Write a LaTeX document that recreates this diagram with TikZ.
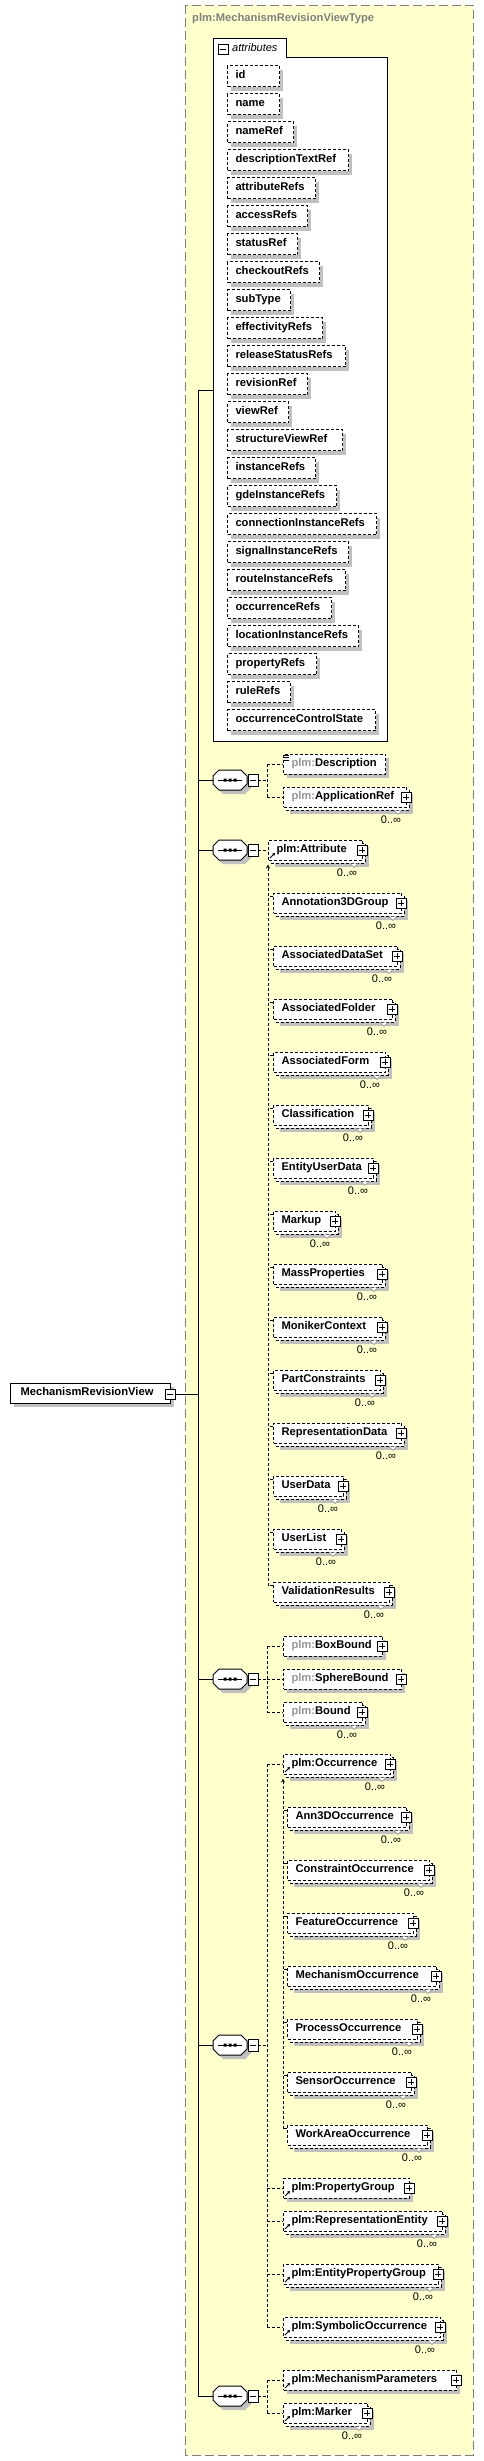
\documentclass[tikz,border=0pt]{standalone}
\usepackage{fontspec}
\setmainfont{Liberation Sans}
\usetikzlibrary{arrows.meta}
\definecolor{ybg}{RGB}{255,255,204}
\definecolor{ygray}{RGB}{128,128,128}
\definecolor{shd}{RGB}{192,192,192}
\definecolor{plmg}{RGB}{150,150,150}
\newcommand{\elfont}{\fontsize{11.2}{13}\selectfont\bfseries}
\tikzset{
  dsh/.style={dash pattern=on 3pt off 2pt, line width=1pt},
  solidln/.style={line width=1pt},
  elbox/.style={draw=black, fill=white, dash pattern=on 3pt off 2pt, line width=1pt,
    anchor=west, minimum height=20pt, inner xsep=8pt, inner ysep=0pt, align=left,
    font=\elfont, text height=8.2pt, text depth=2.4pt},
  mult/.style={font=\fontsize{11}{13}\selectfont, inner sep=0pt},
}
\newcommand{\PlusAt}[2]{%
  \draw[line width=1pt, fill=white] (#1-5,#2-5) rectangle (#1+5,#2+5);
  \draw[line width=1pt] (#1-3,#2) -- (#1+3,#2) (#1,#2-3) -- (#1,#2+3);}
\newcommand{\RefArrow}[2]{%
  \draw[line width=1pt, -{Stealth[length=3pt,width=3.5pt]}] (#1+2,#2+8) -- (#1+7,#2+3);}
\newcommand{\Single}[5]{%
  \fill[shd] (#2+4,#3-6) rectangle (#4+4,#3+14);
  \pgfmathsetmacro{\elw}{#4-#2-16}%
  \node[elbox, text width=\elw pt] (#1) at (#2,#3) {#5};}
\newcommand{\Multi}[5]{%
  \fill[shd] (#2+7,#3-3) rectangle (#4+7,#3+17);
  \draw[dsh, fill=white] (#2+3,#3-7) rectangle (#4+3,#3+13);
  \fill[white] (#4-12,#3+13.5) -- (#4-4,#3+13.5) -- (#4-8,#3+17.5) -- cycle;
  \draw[line width=0.6pt, draw=ygray] (#4-12,#3+13.5) -- (#4-8,#3+17.5) -- (#4-4,#3+13.5);
  \pgfmathsetmacro{\elw}{#4-#2-16}%
  \node[elbox, text width=\elw pt] (#1) at (#2,#3) {#5};
  \node[mult] (#1m) at (#4-15,#3+23) {0..∞};
  \PlusAt{#4}{#3}}
\newcommand{\Attr}[4]{%
  \fill[shd] (227+4,#2-10+4) rectangle (#3+4,#2+11+4);
  \pgfmathsetmacro{\elw}{#3-227-16}%
  \node[elbox, minimum height=21pt, text width=\elw pt] (#1) at (227,#2) {#4};}
\newcommand{\Octa}[2]{%
  \fill[shd] (217,#2-6) -- (223,#2-12+6) -- (245,#2-6) -- (251,#2) -- (251,#2+8) -- (245,#2+14) -- (223,#2+14) -- (217,#2+8) -- cycle;
  \draw[line width=1pt, fill=white] (213,#2-4) -- (219,#2-10) -- (241,#2-10) -- (247,#2-4) -- (247,#2+4) -- (241,#2+10) -- (219,#2+10) -- (213,#2+4) -- cycle;
  \node[inner sep=0pt, minimum width=34pt, minimum height=20pt] (#1) at (230,#2) {};
  \draw[line width=1pt] (218,#2) -- (242,#2);
  \fill (223.5,#2-1.5) rectangle (226.5,#2+1.5) (228.5,#2-1.5) rectangle (231.5,#2+1.5) (233.5,#2-1.5) rectangle (236.5,#2+1.5);
  \draw[line width=1pt, fill=white] (248,#2-6) rectangle (258,#2+6);
  \draw[line width=1pt] (250,#2) -- (256,#2);
  \coordinate (#1m) at (258,#2);}
\begin{document}
\begin{tikzpicture}[x=1pt,y=-1pt]
\useasboundingbox (0,0) rectangle (484,2461);
% type box
\draw[draw=ygray, fill=ybg, dash pattern=on 9pt off 4pt, line width=1pt] (185,5) rectangle (473,2455);
\node[anchor=west, inner sep=0pt, font=\elfont, text=ygray] (title) at (192,19) {plm:MechanismRevisionViewType};
% attributes group
\draw[line width=1pt, fill=white] (213,38) -- (286,38) -- (286,57) -- (387,57) -- (387,741) -- (213,741) -- cycle;
\draw[line width=1pt, fill=white] (218,44) rectangle (228,54);
\draw[line width=1pt] (220,49) -- (226,49);
\node[anchor=west, inner sep=0pt, font=\fontsize{11}{13}\selectfont\itshape] (attl) at (232,48) {attributes};
\coordinate (attrs) at (213,390);
\Attr{a1}{76}{279}{id}
\Attr{a2}{104}{279}{name}
\Attr{a3}{132}{293}{nameRef}
\Attr{a4}{160}{348}{descriptionTextRef}
\Attr{a5}{188}{315}{attributeRefs}
\Attr{a6}{216}{307}{accessRefs}
\Attr{a7}{244}{297}{statusRef}
\Attr{a8}{272}{319}{checkoutRefs}
\Attr{a9}{300}{290}{subType}
\Attr{a10}{328}{322}{effectivityRefs}
\Attr{a11}{356}{345}{releaseStatusRefs}
\Attr{a12}{384}{307}{revisionRef}
\Attr{a13}{412}{288}{viewRef}
\Attr{a14}{440}{342}{structureViewRef}
\Attr{a15}{468}{315}{instanceRefs}
\Attr{a16}{496}{336}{gdeInstanceRefs}
\Attr{a17}{524}{376}{connectionInstanceRefs}
\Attr{a18}{552}{348}{signalInstanceRefs}
\Attr{a19}{580}{345}{routeInstanceRefs}
\Attr{a20}{608}{331}{occurrenceRefs}
\Attr{a21}{636}{358}{locationInstanceRefs}
\Attr{a22}{664}{316}{propertyRefs}
\Attr{a23}{692}{290}{ruleRefs}
\Attr{a24}{720}{375}{occurrenceControlState}
% root element
\fill[shd] (14,1387) rectangle (174,1407);
\node[draw, fill=white, line width=1pt, anchor=west, minimum height=20pt, inner xsep=10pt, inner ysep=0pt,
  text width=140pt, align=left, font=\elfont, text height=8.2pt, text depth=2.4pt] (root) at (10,1393) {MechanismRevisionView};
\draw[line width=1pt, fill=white] (165,1389) rectangle (175,1399);
\draw[line width=1pt] (167,1394) -- (173,1394);
\coordinate (rootm) at (175,1394);
% trunk
\coordinate (trkT) at (198,390);
\coordinate (trkB) at (198,2396);
\draw[solidln] (trkT) -- (trkB);
\draw[solidln] (rootm) -- (rootm -| trkT);
\draw[solidln] (trkT) -- (attrs);
% sequences
\Octa{s1}{780}
\Octa{s2}{850}
\Octa{s3}{1679}
\Octa{s4}{2045}
\Octa{s5}{2396}
\foreach \s in {s1,s2,s3,s4,s5} { \draw[solidln] (trkT |- \s.west) -- (\s.west); }
% seq 1
\Single{desc}{283}{764}{385}{\textcolor{plmg}{plm:}Description}
\draw[line width=0.7pt] (284,755) -- (289,755) (284,757.5) -- (289,757.5) (284,760) -- (289,760);
\Multi{app}{283}{797}{406}{\textcolor{plmg}{plm:}ApplicationRef}
\coordinate (b1) at (267,780);
\draw[dsh] (s1m) -- (b1);
\draw[dsh] (b1 |- desc.west) -- (b1 |- app.west);
\draw[dsh] (b1 |- desc.west) -- (desc.west);
\draw[dsh] (b1 |- app.west) -- (app.west);
% seq 2 : Attribute substitution group
\Multi{attr}{268}{850}{362}{plm:Attribute}
\RefArrow{268}{850}
\draw[dsh] (s2m) -- (attr.west);
\Multi{g1}{273}{903}{401}{Annotation3DGroup}
\Multi{g2}{273}{956}{397}{AssociatedDataSet}
\Multi{g3}{273}{1009}{392}{AssociatedFolder}
\Multi{g4}{273}{1062}{385}{AssociatedForm}
\Multi{g5}{273}{1115}{368}{Classification}
\Multi{g6}{273}{1168}{373}{EntityUserData}
\Multi{g7}{273}{1221}{335}{Markup}
\Multi{g8}{273}{1274}{382}{MassProperties}
\Multi{g9}{273}{1327}{382}{MonikerContext}
\Multi{g10}{273}{1380}{380}{PartConstraints}
\Multi{g11}{273}{1433}{401}{RepresentationData}
\Multi{g12}{273}{1486}{343}{UserData}
\Multi{g13}{273}{1539}{341}{UserList}
\Multi{g14}{273}{1592}{389}{ValidationResults}
\coordinate (sub2) at (268,1586);
\draw[dsh, -{Stealth[length=4pt,width=4pt]}] (sub2) -- ([yshift=-4pt]attr.south west);
\foreach \g in {g1,g2,g3,g4,g5,g6,g7,g8,g9,g10,g11,g12,g13,g14} {
  \draw[dsh] ([yshift=-4pt]\g.north west) -- ([yshift=-4pt]\g.north west -| sub2); }
% seq 3
\Single{bb}{283}{1646}{382}{\textcolor{plmg}{plm:}BoxBound}
\PlusAt{382}{1646}
\Single{sb}{283}{1679}{401}{\textcolor{plmg}{plm:}SphereBound}
\PlusAt{401}{1679}
\Multi{bd}{283}{1712}{362}{\textcolor{plmg}{plm:}Bound}
\coordinate (b3) at (267,1679);
\draw[dsh] (s3m) -- (b3);
\draw[dsh] (b3 |- bb.west) -- (b3 |- bd.west);
\foreach \n in {bb,sb,bd} { \draw[dsh] (b3 |- \n.west) -- (\n.west); }
% seq 4
\Multi{occ}{283}{1764}{390}{plm:Occurrence}
\RefArrow{283}{1764}
\Multi{o1}{287}{1817}{406}{Ann3DOccurrence}
\Multi{o2}{287}{1870}{429}{ConstraintOccurrence}
\Multi{o3}{287}{1923}{413}{FeatureOccurrence}
\Multi{o4}{287}{1976}{436}{MechanismOccurrence}
\Multi{o5}{287}{2029}{417}{ProcessOccurrence}
\Multi{o6}{287}{2082}{411}{SensorOccurrence}
\Multi{o7}{287}{2135}{427}{WorkAreaOccurrence}
\coordinate (sub4) at (283,2129);
\draw[dsh, -{Stealth[length=4pt,width=4pt]}] (sub4) -- ([yshift=-4pt]occ.south west);
\foreach \g in {o1,o2,o3,o4,o5,o6,o7} {
  \draw[dsh] ([yshift=-4pt]\g.north west) -- ([yshift=-4pt]\g.north west -| sub4); }
\Single{pg}{283}{2188}{409}{plm:PropertyGroup}
\PlusAt{409}{2188}
\RefArrow{283}{2188}
\Multi{re}{283}{2221}{442}{plm:RepresentationEntity}
\RefArrow{283}{2221}
\Multi{epg}{283}{2274}{438}{plm:EntityPropertyGroup}
\RefArrow{283}{2274}
\Multi{so}{283}{2327}{440}{plm:SymbolicOccurrence}
\RefArrow{283}{2327}
\coordinate (b4) at (267,2045);
\draw[dsh] (s4m) -- (b4);
\draw[dsh] (b4 |- occ.west) -- (b4 |- so.west);
\foreach \n in {occ,pg,re,epg,so} { \draw[dsh] (b4 |- \n.west) -- (\n.west); }
% seq 5
\Single{mp}{283}{2380}{456}{plm:MechanismParameters}
\PlusAt{456}{2380}
\RefArrow{283}{2380}
\Multi{mk}{283}{2413}{367}{plm:Marker}
\RefArrow{283}{2413}
\coordinate (b5) at (267,2396);
\draw[dsh] (s5m) -- (b5);
\draw[dsh] (b5 |- mp.west) -- (b5 |- mk.west);
\foreach \n in {mp,mk} { \draw[dsh] (b5 |- \n.west) -- (\n.west); }
\end{tikzpicture}
\end{document}
